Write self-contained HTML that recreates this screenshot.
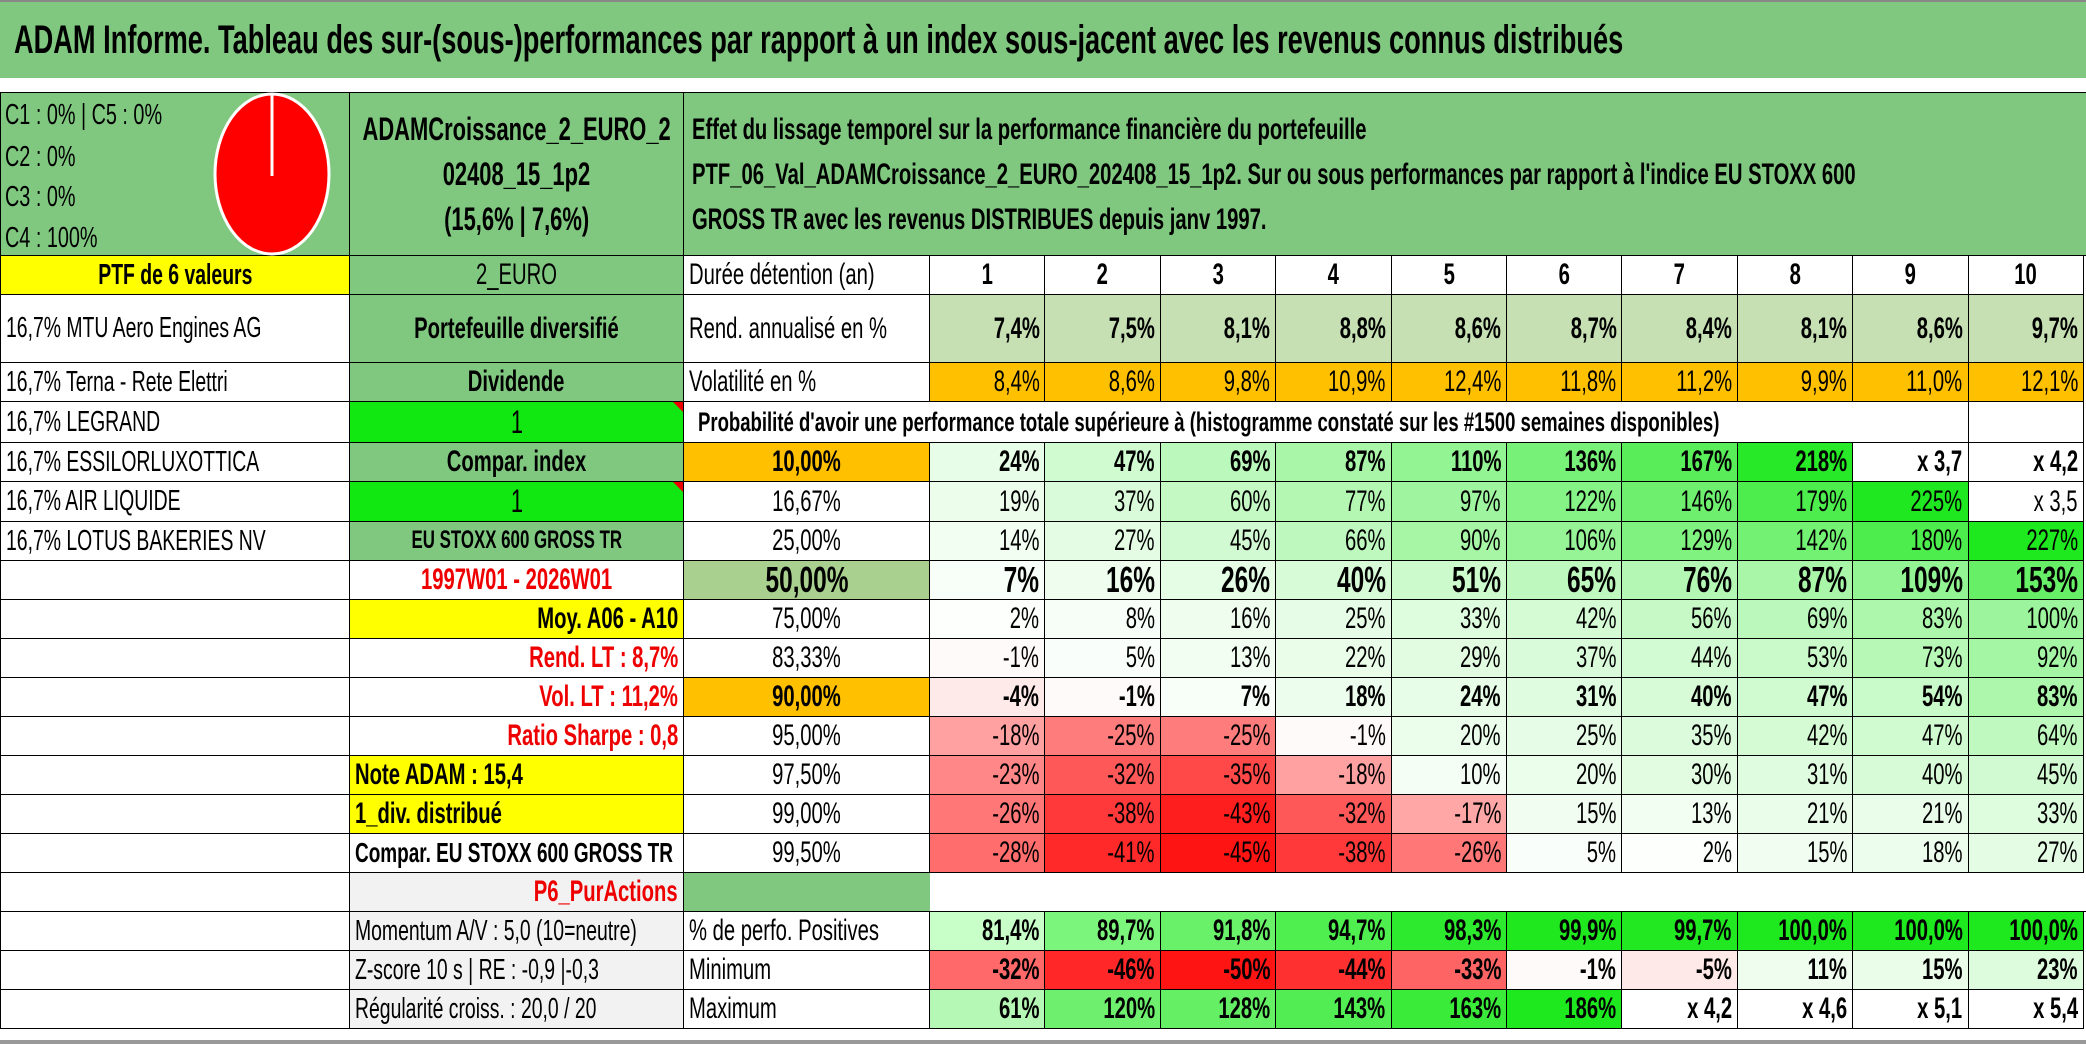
<!DOCTYPE html>
<html><head><meta charset="utf-8">
<style>
body{margin:0;width:2086px;height:1044px;position:relative;overflow:hidden;background:#fff;font-family:"Liberation Sans",sans-serif;color:#000}
.c{position:absolute;box-sizing:border-box;display:flex;align-items:center;white-space:nowrap;overflow:visible}
.c span{display:inline-block;transform:scaleX(.68)}
.L{justify-content:flex-start;padding-left:5px}.L span{transform-origin:left center}
.R{justify-content:flex-end;padding-right:5px}.R span{transform-origin:right center}
.C{justify-content:center}.C span{transform-origin:center center}
.b{font-weight:bold}
</style></head><body>
<div class="c L b" style="left:0;top:0;width:2086px;height:78px;background:#80c880;border-top:2px solid #888;font-size:40px;padding-left:14px"><span>ADAM Informe. Tableau des sur-(sous-)performances par rapport à un index sous-jacent avec les revenus connus distribués</span></div>
<div style="position:absolute;left:0;top:1040px;width:2086px;height:4px;background:#999"></div>
<div id="root"></div>
<script>
// ---- data ----
const durations = ["1","2","3","4","5","6","7","8","9","10"];
const rendAnn = ["7,4%","7,5%","8,1%","8,8%","8,6%","8,7%","8,4%","8,1%","8,6%","9,7%"];
const volat = ["8,4%","8,6%","9,8%","10,9%","12,4%","11,8%","11,2%","9,9%","11,0%","12,1%"];
const probLevels = ["10,00%","16,67%","25,00%","50,00%","75,00%","83,33%","90,00%","95,00%","97,50%","99,00%","99,50%"];
const prob10 = [24,47,69,87,110,136,167,218,"x 3,7","x 4,2"];
const prob1667 = [19,37,60,77,97,122,146,179,225,"x 3,5"];
const prob25 = [14,27,45,66,90,106,129,142,180,227];
const prob50 = [7,16,26,40,51,65,76,87,109,153];
const prob75 = [2,8,16,25,33,42,56,69,83,100];
const prob8333 = [-1,5,13,22,29,37,44,53,73,92];
const prob90 = [-4,-1,7,18,24,31,40,47,54,83];
const prob95 = [-18,-25,-25,-1,20,25,35,42,47,64];
const prob975 = [-23,-32,-35,-18,10,20,30,31,40,45];
const prob99 = [-26,-38,-43,-32,-17,15,13,21,21,33];
const prob995 = [-28,-41,-45,-38,-26,5,2,15,18,27];
const pctPositive = [81.4,89.7,91.8,94.7,98.3,99.9,99.7,100.0,100.0,100.0];
const minimum = [-32,-46,-50,-44,-33,-1,-5,11,15,23];
const maximum = [61,120,128,143,163,186,"x 4,2","x 4,6","x 5,1","x 5,4"];
const stocks = ["16,7% MTU Aero Engines AG","16,7% Terna - Rete Elettri","16,7% LEGRAND","16,7% ESSILORLUXOTTICA","16,7% AIR LIQUIDE","16,7% LOTUS BAKERIES NV"];

// ---- layout ----
const rowY=[256,295,363,402,443,482,522,561,600,639,678,717,756,795,834,873,912,951,990,1029];
const X0=930, CW=115.4, FS=1.24;
const root=document.getElementById('root');
function cell(x,y,w,h,txt,cls,style){
  const d=document.createElement('div');
  d.className='c '+(cls||'L');
  d.style.cssText=`left:${x}px;top:${y}px;width:${w}px;height:${h}px;`+(style||'');
  if(d.style.fontSize) d.style.fontSize=(parseFloat(d.style.fontSize)*FS)+'px';
  if(txt!==''&&txt!=null){const s=document.createElement('span');s.textContent=txt;d.appendChild(s);}
  root.appendChild(d);return d;
}
const BR='border-right:1.5px solid #000;border-bottom:1.5px solid #000;';
function rc(r){return [rowY[r],rowY[r+1]-rowY[r]];}
function lerp(a,b,t){return Math.round(a+(b-a)*t);}
function green(t,from){t=Math.max(0,Math.min(1,t));from=from||[255,255,255];return `rgb(${lerp(from[0],30,t)},${lerp(from[1],232,t)},${lerp(from[2],30,t)})`;}
function red(t){t=Math.max(0,Math.min(1,t));return `rgb(255,${lerp(255,20,t)},${lerp(255,20,t)})`;}
function fmtPct(v){return (typeof v==='string')?v:(String(v).replace('.',',')+'%');}

// top block
let d=cell(0,92,350,164,'', 'L','background:#80c880;border:1.5px solid #000;');


const cl=[["C1 : 0% | C5 : 0%",115],["C2 : 0%",157],["C3 : 0%",197],["C4 : 100%",238]];
cl.forEach(c=>{const e=cell(0,c[1]-15,200,30,c[0],'L','font-size:23.5px;');

});
const pie=document.createElementNS('http://www.w3.org/2000/svg','svg');
pie.setAttribute('style','position:absolute;left:210px;top:90px');
pie.setAttribute('width','124');pie.setAttribute('height','168');
pie.innerHTML='<ellipse cx="62" cy="84" rx="57" ry="80" fill="#ff0000" stroke="#fff" stroke-width="3"/><line x1="62" y1="4" x2="62" y2="86" stroke="#fff" stroke-width="3"/>';


root.appendChild(pie);
d=cell(350,92,334,164,'','C b','background:#80c880;border-top:1.5px solid #000;'+BR+'flex-direction:column;justify-content:center;font-size:26px;line-height:45px;');
d.innerHTML='<span>ADAMCroissance_2_EURO_2</span><span>02408_15_1p2</span><span>(15,6% | 7,6%)</span>';


d=cell(684,92,1402,164,'','L','background:#80c880;border-top:1.5px solid #000;border-bottom:1.5px solid #000;flex-direction:column;align-items:flex-start;justify-content:center;font-size:24px;font-weight:bold;line-height:45px;padding-left:8px;');
d.innerHTML='<span>Effet du lissage temporel sur la performance financière du portefeuille</span><span>PTF_06_Val_ADAMCroissance_2_EURO_202408_15_1p2. Sur ou sous performances par rapport à l\'indice EU STOXX 600</span><span>GROSS TR avec les revenus DISTRIBUES depuis janv 1997.</span>';
d.querySelectorAll('span').forEach(s=>s.style.transformOrigin='left center');



// column 0
let [y,h]=rc(0);
d=cell(0,y,350,h,'PTF de 6 valeurs','C b','background:#ffff00;border-left:1.5px solid #000;'+BR+'font-size:23px;');


for(let r=1;r<19;r++){[y,h]=rc(r);
  const t=r<=6?stocks[r-1]:'';
  d=cell(0,y,350,h,t,'L','background:#fff;border-left:1.5px solid #000;'+BR+'font-size:23px;');
  
  }

// column 1
const c1=[
 ["2_EURO","C","#80c880","#000",24,false,'currency'],
 ["Portefeuille diversifié","C","#80c880","#000",24,true,'portfolio-type'],
 ["Dividende","C","#80c880","#000",24,true,'dividend-label'],
 ["1","C","#11e811","#000",26,false,'dividend-flag'],
 ["Compar. index","C","#80c880","#000",24,true,'compare-index-label'],
 ["1","C","#11e811","#000",26,false,'compare-index-flag'],
 ["EU STOXX 600 GROSS TR","C","#80c880","#000",20,true,'index-name'],
 ["1997W01 - 2026W01","C","#fff","#e00",24,true,'period'],
 ["Moy. A06 - A10","R","#ffff00","#000",24,true,'average-range'],
 ["Rend. LT : 8,7%","R","#fff","#e00",24,true,'long-term-return'],
 ["Vol. LT : 11,2%","R","#fff","#e00",24,true,'long-term-volatility'],
 ["Ratio Sharpe : 0,8","R","#fff","#e00",24,true,'sharpe-ratio'],
 ["Note ADAM : 15,4","L","#ffff00","#000",24,true,'adam-score'],
 ["1_div. distribué","L","#ffff00","#000",24,true,'dividend-distributed'],
 ["Compar. EU STOXX 600 GROSS TR","L","#fff","#000",22.5,true,'comparison-label'],
 ["P6_PurActions","R","#f2f2f2","#e00",24,true,'strategy-name'],
 ["Momentum A/V : 5,0 (10=neutre)","L","#f2f2f2","#000",23,false,'momentum'],
 ["Z-score 10 s | RE : -0,9 |-0,3","L","#f2f2f2","#000",23,false,'z-score'],
 ["Régularité croiss. : 20,0 / 20","L","#f2f2f2","#000",23,false,'growth-regularity']];
c1.forEach((c,r)=>{[y,h]=rc(r);
 d=cell(350,y,334,h,c[0],c[1]+(c[5]?' b':''),`background:${c[2]};color:${c[3]};font-size:${c[4]}px;`+BR);
 if(c[6].endsWith('flag')){const t=document.createElement('div');t.style.cssText='position:absolute;right:0;top:0;width:0;height:0;border-top:10px solid #e00;border-left:10px solid transparent';d.appendChild(t);}
 
 });

// column 2 labels
[y,h]=rc(0);d=cell(684,y,246,h,'Durée détention (an)','L','background:#fff;font-size:24px;'+BR);


[y,h]=rc(1);d=cell(684,y,246,h,'Rend. annualisé en %','L','background:#fff;font-size:24px;'+BR);


[y,h]=rc(2);d=cell(684,y,246,h,'Volatilité en %','L','background:#fff;font-size:24px;'+BR);


[y,h]=rc(3);d=cell(684,y,1169,h,"Probabilité d'avoir une performance totale supérieure à (histogramme constaté sur les #1500 semaines disponibles)",'L b','background:#fff;font-size:22px;padding-left:14px;border-bottom:1.5px solid #000;');


for(let k=8;k<10;k++){d=cell(X0+k*CW,y,CW,h,'','C','background:#fff;'+BR);

}
probLevels.forEach((p,i)=>{const r=4+i;[y,h]=rc(r);
 let bg='#fff',fs=24,bold=false;
 if(i===0||i===6){bg='#ffc000';bold=true;}
 if(i===3){bg='#a9d08e';bold=true;fs=29;}
 d=cell(684,y,246,h,p,'C'+(bold?' b':''),`background:${bg};font-size:${fs}px;`+BR);
 
 });
[y,h]=rc(15);d=cell(684,y,246,h,'','C','background:#80c880;border-bottom:1.5px solid #000;');


[y,h]=rc(15);d=cell(X0,y,1156,h,'','C','background:#fff;border-bottom:1.5px solid #000;');


[['% de perfo. Positives','positive-share-label'],['Minimum','minimum-label'],['Maximum','maximum-label']].forEach((t,i)=>{[y,h]=rc(16+i);
 d=cell(684,y,246,h,t[0],'L','background:#fff;font-size:24px;'+BR);
 
 });

// data columns
durations.forEach((v,k)=>{[y,h]=rc(0);
 d=cell(X0+k*CW,y,CW,h,v,'C b','background:#fff;font-size:24px;'+BR);
 
 });
rendAnn.forEach((v,k)=>{[y,h]=rc(1);
 d=cell(X0+k*CW,y,CW,h,v,'R b','background:#c6e0b4;font-size:24px;'+BR);
 
 });
volat.forEach((v,k)=>{[y,h]=rc(2);
 d=cell(X0+k*CW,y,CW,h,v,'R','background:#ffc000;font-size:24px;'+BR);
 
 });
const probRowsAll=[prob10,prob1667,prob25,prob50,prob75,prob8333,prob90,prob95,prob975,prob99,prob995];
probRowsAll.forEach((row,i)=>{const r=4+i;[y,h]=rc(r);
 const bold=(i===0||i===3||i===6);const fs=i===3?29:24;
 row.forEach((v,k)=>{
  let bg='#fff';
  if(typeof v==='number'){bg=v>=0?green(v/227):red(v/-45);}
  d=cell(X0+k*CW,y,CW,h,fmtPct(v),'R'+(bold?' b':''),`background:${bg};font-size:${fs}px;`+BR);
  
  });});
pctPositive.forEach((v,k)=>{[y,h]=rc(16);
 const bg=green((v-81.4)/18.6,[200,255,200]);
 d=cell(X0+k*CW,y,CW,h,v.toFixed(1).replace('.',',')+'%','R b',`background:${bg};font-size:24px;`+BR);
 
 });
minimum.forEach((v,k)=>{[y,h]=rc(17);
 const bg=v>=0?green(v/150):red(v/-50);
 d=cell(X0+k*CW,y,CW,h,fmtPct(v),'R b',`background:${bg};font-size:24px;`+BR);
 
 });
maximum.forEach((v,k)=>{[y,h]=rc(18);
 const bg=typeof v==='number'?green(v/186):'#fff';
 d=cell(X0+k*CW,y,CW,h,fmtPct(v),'R b',`background:${bg};font-size:24px;`+BR);
 
 });
</script>
</body></html>
